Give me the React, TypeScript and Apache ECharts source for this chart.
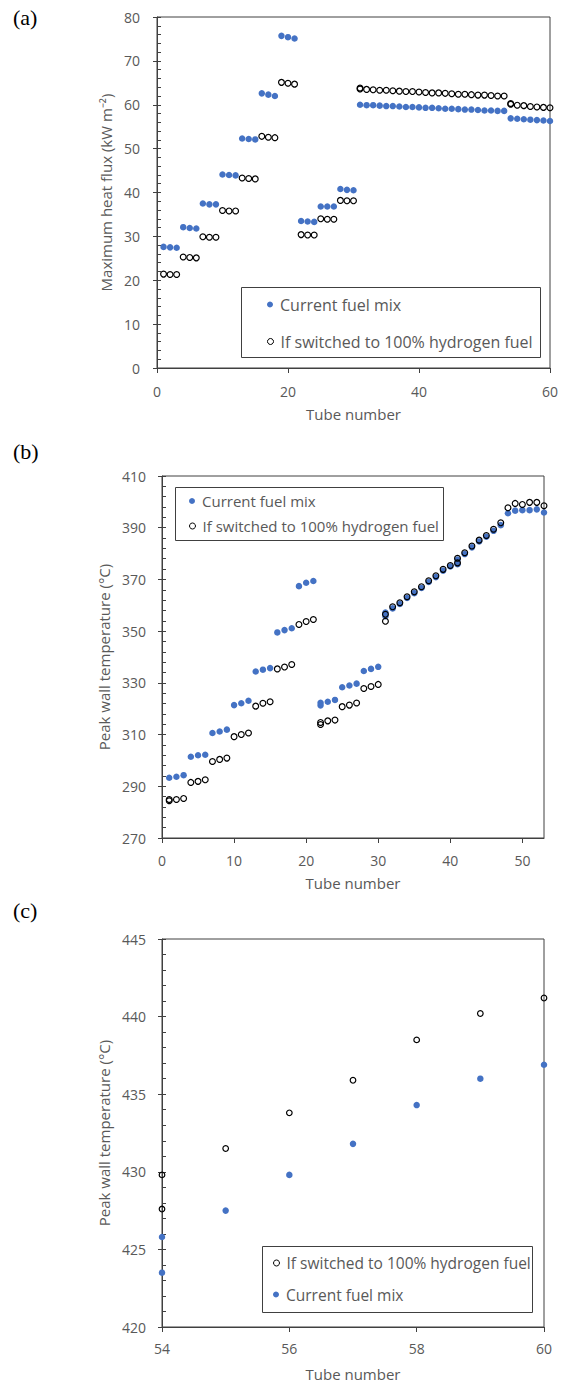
import React, { useEffect, useRef } from "react";
import * as echarts from "echarts";

// ---------- Panel (a): maximum heat flux ----------
const tubesA = [
  1, 2, 3, 4, 5, 6, 7, 8, 9, 10, 11, 12, 13, 14, 15, 16, 17, 18, 19, 20,
  21, 22, 23, 24, 25, 26, 27, 28, 29, 30, 31, 32, 33, 34, 35, 36, 37, 38, 39, 40,
  41, 42, 43, 44, 45, 46, 47, 48, 49, 50, 51, 52, 53, 54, 55, 56, 57, 58, 59, 60,
];
const currentA = [
  27.6, 27.5, 27.4, 32.1, 31.9, 31.8, 37.5, 37.3, 37.3, 44.1, 44.0, 43.9, 52.3, 52.2, 52.1,
  62.6, 62.3, 62.0, 75.7, 75.4, 75.1, 33.5, 33.4, 33.3, 36.8, 36.8, 36.8, 40.8, 40.6, 40.5,
  60.0, 59.9, 59.9, 59.8, 59.7, 59.7, 59.6, 59.5, 59.5, 59.4, 59.3, 59.3, 59.2, 59.1, 59.1,
  59.0, 58.9, 58.9, 58.8, 58.7, 58.7, 58.6, 58.6,
  56.9, 56.8, 56.7, 56.6, 56.5, 56.4, 56.3,
];
const hydrogenA = [
  21.4, 21.3, 21.3, 25.3, 25.2, 25.1, 29.9, 29.8, 29.8, 35.9, 35.8, 35.8, 43.3, 43.2, 43.1,
  52.8, 52.6, 52.5, 65.1, 64.9, 64.7, 30.4, 30.3, 30.3, 34.0, 33.9, 33.9, 38.2, 38.1, 38.1,
  63.6, 63.5, 63.4, 63.3, 63.3, 63.2, 63.1, 63.0, 63.0, 62.9, 62.8, 62.7, 62.7, 62.6, 62.5,
  62.4, 62.4, 62.3, 62.2, 62.2, 62.1, 62.0, 62.0,
  60.1, 59.9, 59.8, 59.6, 59.5, 59.4, 59.3,
];
const extraHydrogenTubesA = [31, 54];
const extraHydrogenA = [63.8, 60.3];

// ---------- Panel (b): peak wall temperature, tubes 1-53 ----------
const tubesB = [
  1, 2, 3, 4, 5, 6, 7, 8, 9, 10, 11, 12, 13, 14, 15, 16, 17, 18, 19, 20,
  21, 22, 23, 24, 25, 26, 27, 28, 29, 30, 31, 32, 33, 34, 35, 36, 37, 38, 39, 40,
  41, 42, 43, 44, 45, 46, 47, 48, 49, 50, 51, 52, 53,
];
const currentB = [
  293.3, 293.7, 294.3, 301.4, 302.0, 302.2, 310.6, 311.2, 311.9, 321.4, 322.1, 323.1,
  334.4, 335.1, 335.7, 349.5, 350.4, 351.1, 367.4, 368.7, 369.4, 322.3, 322.7, 323.4,
  328.3, 329.0, 329.7, 334.6, 335.4, 336.2, 357.2, 358.8, 360.5, 362.8, 364.7, 366.7,
  369.0, 370.9, 373.4, 375.0, 375.9, 379.8, 382.4, 384.7, 386.5, 388.8, 391.0,
  395.6, 396.6, 396.8, 396.8, 397.1, 395.9,
];
const hydrogenB = [
  284.9, 284.9, 285.3, 291.5, 291.9, 292.5, 299.6, 300.4, 300.9, 309.2, 310.0, 310.6,
  321.0, 322.1, 322.7, 335.4, 336.1, 337.1, 352.6, 353.7, 354.5, 314.7, 315.3, 315.6,
  320.8, 321.4, 322.2, 327.8, 328.6, 329.4, 356.5, 359.4, 361.0, 363.3, 365.2, 367.2,
  369.5, 371.4, 373.9, 375.4, 376.4, 380.3, 382.9, 385.2, 387.0, 389.4, 391.9,
  397.7, 399.4, 399.0, 399.8, 399.8, 398.5,
];
const extraCurrentTubesB = [22, 31, 41];
const extraCurrentB = [321.3, 355.8, 377.7];
const extraHydrogenTubesB = [1, 22, 31, 41];
const extraHydrogenB = [284.4, 313.9, 353.8, 378.2];

// ---------- Panel (c): peak wall temperature, tubes 54-60 ----------
const tubesC = [54, 54, 55, 56, 57, 58, 59, 60];
const currentC = [425.8, 423.5, 427.5, 429.8, 431.8, 434.3, 436.0, 436.9];
const hydrogenC = [429.8, 427.6, 431.5, 433.8, 435.9, 438.5, 440.2, 441.2];

// ---------- Axis ticks ----------
const xTicksA = [0, 20, 40, 60];
const yTicksA = [0, 10, 20, 30, 40, 50, 60, 70, 80];
const yMinorA = [
  0, 2, 4, 6, 8, 10, 12, 14, 16, 18, 20, 22, 24, 26, 28, 30, 32, 34, 36, 38, 40,
  42, 44, 46, 48, 50, 52, 54, 56, 58, 60, 62, 64, 66, 68, 70, 72, 74, 76, 78, 80,
];
const xTicksB = [0, 10, 20, 30, 40, 50];
const yTicksB = [270, 290, 310, 330, 350, 370, 390, 410];
const yMinorB = [
  270, 274, 278, 282, 286, 290, 294, 298, 302, 306, 310, 314, 318, 322, 326, 330,
  334, 338, 342, 346, 350, 354, 358, 362, 366, 370, 374, 378, 382, 386, 390, 394,
  398, 402, 406, 410,
];
const xTicksC = [54, 56, 58, 60];
const yTicksC = [420, 425, 430, 435, 440, 445];
const yMinorC = [
  420, 421, 422, 423, 424, 425, 426, 427, 428, 429, 430, 431, 432, 433, 434, 435,
  436, 437, 438, 439, 440, 441, 442, 443, 444, 445,
];

const CURRENT = "Current fuel mix";
const HYDROGEN = "If switched to 100% hydrogen fuel";

const FONT = "'Open Sans', sans-serif";
const GREY = "#595959";
const AXIS = "#404040";
const BLUE = "#4472C4";

const zip = (xs: number[], ys: number[]) => xs.map((x, i) => [x, ys[i]]);

function xAxisCfg(grid: number, min: number, max: number, ticks: number[], labelMargin: number, nameGap: number) {
  return {
    type: "value",
    gridIndex: grid,
    min,
    max,
    axisLine: { show: true, onZero: false, lineStyle: { color: AXIS, width: 1 } },
    axisTick: { show: true, inside: false, length: 5, customValues: ticks, lineStyle: { color: AXIS } },
    axisLabel: { show: true, customValues: ticks, color: GREY, fontSize: 14, fontFamily: FONT, margin: labelMargin },
    splitLine: { show: false },
    name: "Tube number",
    nameLocation: "middle",
    nameGap,
    nameTextStyle: { color: GREY, fontSize: 15, fontFamily: FONT },
  };
}

function yAxisMain(grid: number, min: number, max: number, ticks: number[], labelMargin: number, name: string, nameGap: number) {
  return {
    type: "value",
    gridIndex: grid,
    position: "left",
    min,
    max,
    axisLine: { show: true, onZero: false, lineStyle: { color: AXIS, width: 1 } },
    axisTick: { show: true, inside: false, length: 4, customValues: ticks, lineStyle: { color: AXIS } },
    axisLabel: { show: true, customValues: ticks, color: GREY, fontSize: 14, fontFamily: FONT, margin: labelMargin },
    splitLine: { show: false },
    name,
    nameLocation: "middle",
    nameGap,
    nameRotate: 90,
    nameTextStyle: { color: GREY, fontSize: 15, fontFamily: FONT },
  };
}

function yAxisMinor(grid: number, min: number, max: number, ticks: number[]) {
  return {
    type: "value",
    gridIndex: grid,
    position: "left",
    offset: 0,
    min,
    max,
    axisLine: { show: false },
    axisTick: { show: true, inside: true, length: 4, customValues: ticks, lineStyle: { color: AXIS } },
    axisLabel: { show: false },
    splitLine: { show: false },
  };
}

function currentSeries(xi: number, yi: number, data: number[][], size: number) {
  return {
    type: "scatter",
    name: CURRENT,
    xAxisIndex: xi,
    yAxisIndex: yi,
    data,
    symbol: "circle",
    symbolSize: size,
    itemStyle: { color: BLUE, opacity: 1 },
    silent: true,
    clip: false,
  };
}

function hydrogenSeries(xi: number, yi: number, data: number[][], size: number) {
  return {
    type: "scatter",
    name: HYDROGEN,
    xAxisIndex: xi,
    yAxisIndex: yi,
    data,
    symbol: "circle",
    symbolSize: size,
    itemStyle: { color: "rgba(255,255,255,0)", borderColor: "#000000", borderWidth: 1.2, opacity: 1 },
    silent: true,
    clip: false,
  };
}

function legendCfg(name: string, left: number, top: number, fontSize: number, hollow: boolean) {
  return {
    data: [name],
    left,
    top,
    orient: "vertical",
    padding: 0,
    itemWidth: 6,
    itemHeight: 6,
    selectedMode: false,
    itemStyle: hollow
      ? { color: "rgba(255,255,255,0)", borderColor: "#000000", borderWidth: 1, opacity: 1 }
      : { color: BLUE, opacity: 1 },
    textStyle: { color: GREY, fontSize, fontFamily: FONT, padding: [0, 0, 0, 2] },
  };
}

function boxRect(x: number, y: number, w: number, h: number) {
  return {
    type: "rect",
    shape: { x: x + 0.5, y: y + 0.5, width: w, height: h },
    style: { fill: "transparent", stroke: AXIS, lineWidth: 1 },
    silent: true,
  };
}

function panelLabel(text: string, left: number, top: number) {
  return {
    type: "text",
    left,
    top,
    style: { text, fill: "#000000", fontSize: 22, fontFamily: "'Liberation Serif', 'Times New Roman', serif" },
    silent: true,
  };
}

export default function App() {
  const ref = useRef<HTMLDivElement>(null);

  useEffect(() => {
    if (!ref.current) return;
    const chart = echarts.init(ref.current, null, { renderer: "svg" });

    const gridBase = { show: true, borderColor: AXIS, borderWidth: 1, backgroundColor: "transparent", containLabel: false, outerBoundsMode: "none" };

    const option: any = {
      animation: false,
      backgroundColor: "#ffffff",
      grid: [
        { ...gridBase, left: 157, top: 17, width: 393, height: 351 },
        { ...gridBase, left: 162, top: 476, width: 382, height: 362 },
        { ...gridBase, left: 162, top: 939, width: 382, height: 388 },
      ],
      xAxis: [
        xAxisCfg(0, 0, 60, xTicksA, 16, 38),
        xAxisCfg(1, 0, 53, xTicksB, 15, 37),
        xAxisCfg(2, 54, 60, xTicksC, 14, 39),
      ],
      yAxis: [
        yAxisMain(0, 0, 80, yTicksA, 17, "Maximum heat flux (kW m\u207B\u00B2)", 42),
        yAxisMinor(0, 0, 80, yMinorA),
        yAxisMain(1, 270, 410, yTicksB, 16, "Peak wall temperature (\u00B0C)", 47),
        yAxisMinor(1, 270, 410, yMinorB),
        yAxisMain(2, 420, 445, yTicksC, 16, "Peak wall temperature (\u00B0C)", 47),
        yAxisMinor(2, 420, 445, yMinorC),
      ],
      legend: [
        legendCfg(CURRENT, 267, 296.5, 16, false),
        legendCfg(HYDROGEN, 267, 333.5, 16, true),
        legendCfg(CURRENT, 189, 493.5, 15, false),
        legendCfg(HYDROGEN, 189, 518.5, 15, true),
        legendCfg(HYDROGEN, 273, 1255, 15.5, true),
        legendCfg(CURRENT, 273, 1286.5, 15.5, false),
      ],
      series: [
        currentSeries(0, 0, zip(tubesA, currentA), 6.5),
        hydrogenSeries(0, 0, zip(tubesA, hydrogenA).concat(zip(extraHydrogenTubesA, extraHydrogenA)), 5.8),
        currentSeries(1, 2, zip(tubesB, currentB).concat(zip(extraCurrentTubesB, extraCurrentB)), 6.5),
        hydrogenSeries(1, 2, zip(tubesB, hydrogenB).concat(zip(extraHydrogenTubesB, extraHydrogenB)), 5.8),
        currentSeries(2, 4, zip(tubesC, currentC), 6.5),
        hydrogenSeries(2, 4, zip(tubesC, hydrogenC), 5.6),
      ],
      graphic: [
        panelLabel("(a)", 13, 6),
        panelLabel("(b)", 13, 440),
        panelLabel("(c)", 13, 899),
        boxRect(241, 287, 299, 70),
        boxRect(175, 487, 268, 53),
        boxRect(262, 1246, 270, 66),
      ],
    };

    chart.setOption(option);
    return () => chart.dispose();
  }, []);

  return <div ref={ref} style={{ position: "absolute", left: 0, top: 0, width: 564, height: 1385 }} />;
}
